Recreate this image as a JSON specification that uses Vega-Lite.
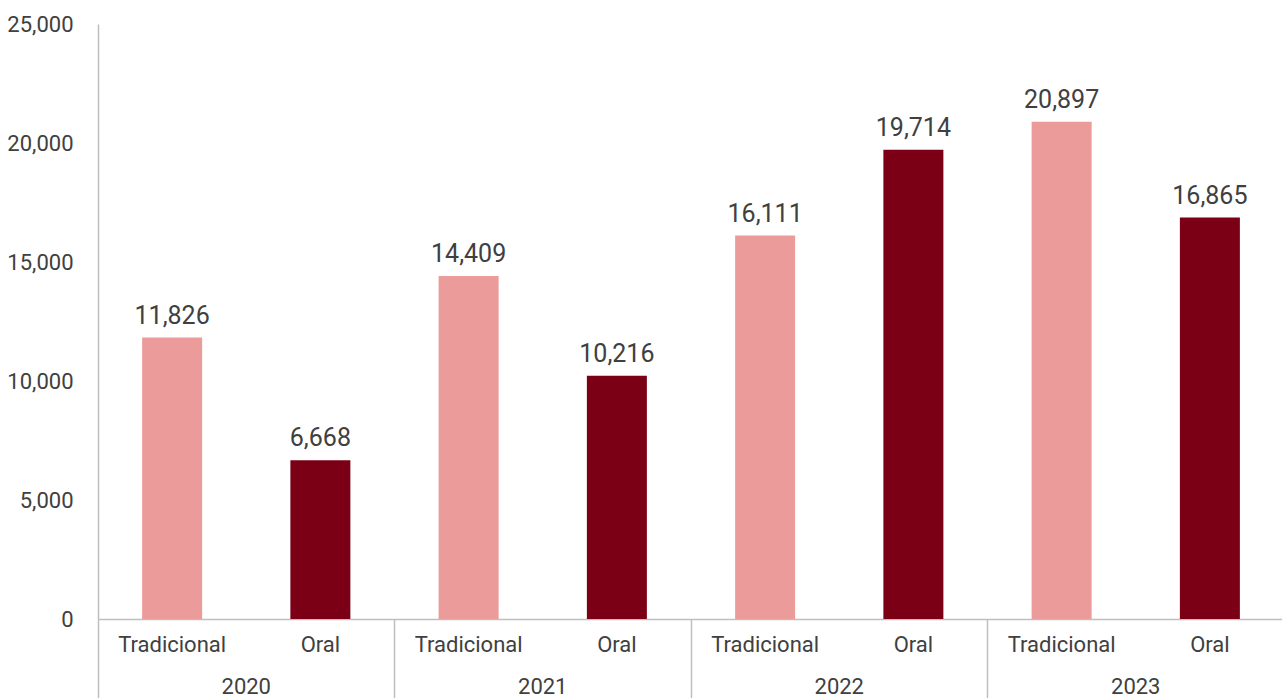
{
  "$schema": "https://vega.github.io/schema/vega-lite/v6.json",
  "width": 1186,
  "height": 595,
  "autosize": {"type": "none"},
  "padding": {"left": 98, "top": 24, "right": 0, "bottom": 79},
  "background": "white",
  "config": {
    "view": {"stroke": null},
    "font": "Roboto, sans-serif",
    "axis": {"labelFont": "Roboto, sans-serif", "labelColor": "#404040", "labelFontSize": 22, "grid": false}
  },
  "data": {
    "values": [
      {"key": "2020|Tradicional", "year": "2020", "type": "Tradicional", "value": 11826},
      {"key": "2020|Oral", "year": "2020", "type": "Oral", "value": 6668},
      {"key": "2021|Tradicional", "year": "2021", "type": "Tradicional", "value": 14409},
      {"key": "2021|Oral", "year": "2021", "type": "Oral", "value": 10216},
      {"key": "2022|Tradicional", "year": "2022", "type": "Tradicional", "value": 16111},
      {"key": "2022|Oral", "year": "2022", "type": "Oral", "value": 19714},
      {"key": "2023|Tradicional", "year": "2023", "type": "Tradicional", "value": 20897},
      {"key": "2023|Oral", "year": "2023", "type": "Oral", "value": 16865}
    ]
  },
  "layer": [
    {
      "mark": {"type": "bar", "width": 60},
      "encoding": {
        "x": {
          "field": "key", "type": "nominal", "sort": null,
          "scale": {"paddingInner": 0, "paddingOuter": 0},
          "axis": {
            "title": null, "orient": "bottom", "labelAngle": 0, "ticks": false,
            "domainColor": "#BFBFBF", "domainWidth": 1.5,
            "labelPadding": 15,
            "labelExpr": "split(datum.value, '|')[1]"
          }
        },
        "y": {
          "field": "value", "type": "quantitative",
          "scale": {"domain": [0, 25000], "nice": false},
          "axis": {
            "title": null, "values": [0, 5000, 10000, 15000, 20000, 25000],
            "format": ",.0f", "ticks": false, "labelPadding": 25,
            "domainColor": "#BFBFBF", "domainWidth": 1.5
          }
        },
        "color": {
          "field": "type", "type": "nominal", "legend": null,
          "scale": {"domain": ["Tradicional", "Oral"], "range": ["#EC9B9B", "#7B0016"]}
        }
      }
    },
    {
      "mark": {"type": "text", "align": "center", "baseline": "alphabetic", "dy": -14, "fontSize": 25, "color": "#404040", "font": "Roboto, sans-serif"},
      "encoding": {
        "x": {"field": "key", "type": "nominal", "sort": null, "axis": null},
        "y": {"field": "value", "type": "quantitative"},
        "text": {"field": "value", "type": "quantitative", "format": ","}
      }
    },
    {
      "mark": {"type": "rule", "opacity": 0},
      "encoding": {
        "x": {
          "field": "year", "type": "nominal",
          "scale": {"paddingInner": 0, "paddingOuter": 0},
          "axis": {
            "title": null, "orient": "bottom", "labelAngle": 0, "domain": false,
            "bandPosition": 0, "tickSize": 79, "tickColor": "#BFBFBF", "tickWidth": 1.5,
            "labelPadding": -22, "labelBaseline": "top"
          }
        }
      }
    }
  ],
  "resolve": {"scale": {"x": "independent"}, "axis": {"x": "independent"}}
}
